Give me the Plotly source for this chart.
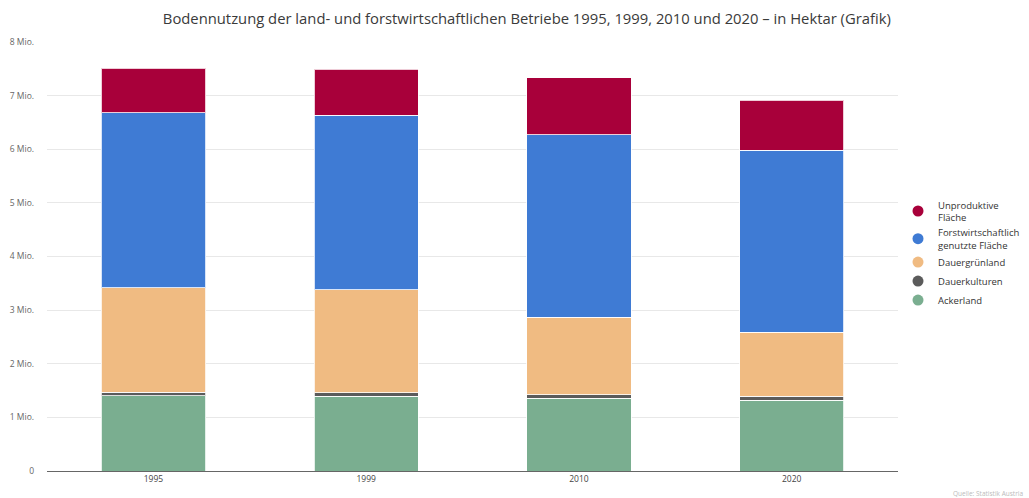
import plotly.graph_objects as go

years = ["1995", "1999", "2010", "2020"]

ackerland = [1.40, 1.39, 1.36, 1.32]
dauerkulturen = [0.07, 0.07, 0.06, 0.07]
dauergruenland = [1.95, 1.92, 1.45, 1.20]
forst = [3.26, 3.25, 3.40, 3.39]
unproduktiv = [0.83, 0.86, 1.06, 0.93]

series = [
    ("Ackerland", ackerland, "#7aae90"),
    ("Dauerkulturen", dauerkulturen, "#5b5b5b"),
    ("Dauergrünland", dauergruenland, "#f0bb82"),
    ("Forstwirtschaftlich<br>genutzte Fläche", forst, "#3f7bd4"),
    ("Unproduktive<br>Fläche", unproduktiv, "#a8003a"),
]

y_tickvals = [0, 1, 2, 3, 4, 5, 6, 7, 8]
y_ticktext = ["0", "1 Mio.", "2 Mio.", "3 Mio.", "4 Mio.", "5 Mio.", "6 Mio.", "7 Mio.", "8 Mio."]

fig = go.Figure()
for name, vals, color in series:
    fig.add_trace(go.Bar(
        x=years, y=vals, name=name, showlegend=False,
        marker=dict(color=color, line=dict(color="rgba(255,255,255,0.8)", width=1)),
        width=0.49,
    ))
# round legend markers
for name, vals, color in series:
    fig.add_trace(go.Scatter(
        x=[None], y=[None], mode="markers", name=name,
        marker=dict(symbol="circle", size=11, color=color),
    ))

fig.update_layout(
    barmode="stack",
    width=1029, height=498,
    margin=dict(l=47, r=131, t=42, b=27, autoexpand=False),
    paper_bgcolor="white", plot_bgcolor="white",
    font=dict(family="Open Sans", color="#555"),
    title=dict(
        text="Bodennutzung der land- und forstwirtschaftlichen Betriebe 1995, 1999, 2010 und 2020 – in Hektar (Grafik)",
        x=0.512, xanchor="center", y=0.962, yanchor="middle",
        font=dict(size=14.8, color="#3a3a3a", family="Open Sans"),
    ),
    legend=dict(
        traceorder="reversed",
        x=(898 - 47) / 851, xanchor="left", y=0.65, yanchor="top",
        font=dict(size=9.5, color="#333"),
        itemwidth=30,
        tracegroupgap=0,
        bgcolor="rgba(0,0,0,0)",
    ),
    showlegend=True,
    xaxis=dict(
        showgrid=False, showline=True, linecolor="#666", linewidth=1,
        tickfont=dict(size=8.5, color="#444"), ticks="",
    ),
    yaxis=dict(
        range=[0, 8], tickvals=y_tickvals, ticktext=y_ticktext,
        showgrid=True, gridcolor="#e8e8e8", gridwidth=1, zeroline=False,
        tickfont=dict(size=8.5, color="#666"), ticks="",
        ticklabelstandoff=12,
    ),
)

fig.add_annotation(
    text="Quelle: Statistik Austria", xref="paper", yref="paper",
    x=1.0 + 127 / 851, y=-0.052, xanchor="right", yanchor="middle",
    showarrow=False, font=dict(size=6.5, color="#bbb"),
)

fig.write_html("out.html")
